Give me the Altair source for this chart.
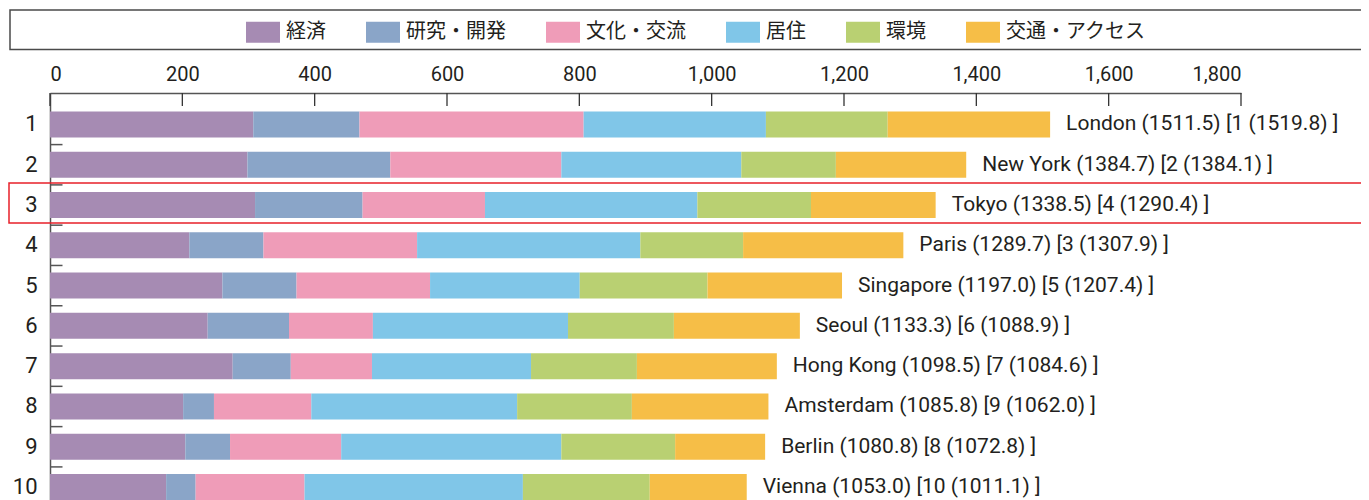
import altair as alt
import pandas as pd

# ---- data ----
ranks = [1, 2, 3, 4, 5, 6, 7, 8, 9, 10]
cities = ["London", "New York", "Tokyo", "Paris", "Singapore", "Seoul",
          "Hong Kong", "Amsterdam", "Berlin", "Vienna"]
totals = [1511.5, 1384.7, 1338.5, 1289.7, 1197.0, 1133.3, 1098.5, 1085.8, 1080.8, 1053.0]
prev_rank = [1, 2, 4, 3, 5, 6, 7, 9, 8, 10]
prev_score = [1519.8, 1384.1, 1290.4, 1307.9, 1207.4, 1088.9, 1084.6, 1062.0, 1072.8, 1011.1]

categories = ["経済", "研究・開発", "文化・交流", "居住", "環境", "交通・アクセス"]
colors = ["#a68bb3", "#8aa5c8", "#ef9cb8", "#80c6e8", "#b9d072", "#f6be47"]

economy = [307.2, 298.4, 309.9, 210.6, 260.6, 238.3, 276.1, 201.2, 204.5, 175.5]
research = [160.5, 215.9, 162.5, 112.0, 112.0, 122.9, 87.8, 46.6, 67.6, 44.6]
culture = [338.8, 258.5, 185.0, 232.2, 201.8, 126.8, 122.7, 147.1, 168.0, 164.6]
livability = [275.5, 272.0, 321.0, 337.4, 226.2, 294.9, 240.4, 311.1, 332.7, 330.0]
environment = [184.0, 142.9, 171.7, 155.3, 193.1, 160.0, 160.0, 173.4, 172.0, 191.7]
access = [245.5, 197.0, 188.4, 242.2, 203.3, 190.4, 211.5, 206.4, 136.0, 146.6]

x_ticks = [0, 200, 400, 600, 800, 1000, 1200, 1400, 1600, 1800]
highlight_rank = [3]

series = [economy, research, culture, livability, environment, access]

rows = []
for ci, (cat, vals) in enumerate(zip(categories, series)):
    for r, v in zip(ranks, vals):
        rows.append({"rank": r, "category": cat, "value": v, "order": ci})
bars_df = pd.DataFrame(rows)

labels_df = pd.DataFrame({
    "rank": ranks,
    "total": totals,
    "label": [f"{c} ({t:.1f}) [{pr} ({ps:.1f}) ]"
              for c, t, pr, ps in zip(cities, totals, prev_rank, prev_score)],
})
ticks_df = pd.DataFrame({"tick": x_ticks})
hl_df = pd.DataFrame({"rank": highlight_rank})
rank_df = pd.DataFrame({"rank": ranks})

FONT = "Roboto, Noto Sans CJK JP, sans-serif"
JFONT = "Noto Sans CJK JP, sans-serif"
W = 1191
H = 425
RANGE = 425.4

xscale = alt.Scale(domain=[0, 1800], nice=False)
yscale = alt.Scale(range=[0, RANGE], paddingInner=0.3547, paddingOuter=0.4567)

x_enc = alt.X("value:Q", stack="zero", scale=xscale,
              axis=alt.Axis(orient="top", values=x_ticks, format=",d", title=None,
                            labelFontSize=20, labelFont=FONT, labelColor="#231f20",
                            labelPadding=9, ticks=False, tickSize=0, grid=False,
                            domain=True, domainColor="#555555", domainWidth=1.5))
y_enc = alt.Y("rank:O", scale=yscale,
              axis=alt.Axis(orient="left", title=None, labelFontSize=22, labelFont=FONT,
                            labelColor="#231f20", labelPadding=13, ticks=False, tickSize=0,
                            domain=True, domainColor="#555555", domainWidth=1.5,
                            labelAngle=0))

bars = alt.Chart(bars_df).mark_bar().encode(
    x=x_enc,
    y=y_enc,
    color=alt.Color("category:N",
                    scale=alt.Scale(domain=categories, range=colors),
                    legend=alt.Legend(orient="none", legendX=196, legendY=-78,
                                      direction="horizontal", title=None,
                                      symbolType="M-1,-0.62H1V0.62H-1Z", symbolSize=1156,
                                      symbolStrokeWidth=0, symbolOpacity=1,
                                      labelFontSize=20, labelFont=JFONT,
                                      labelColor="#231f20", labelOffset=6,
                                      columnPadding=40, labelLimit=300)),
    order=alt.Order("order:Q"),
)

text = alt.Chart(labels_df).mark_text(
    align="left", baseline="middle", dx=16, fontSize=21, font=FONT, color="#231f20"
).encode(
    x=alt.X("total:Q", scale=xscale),
    y=alt.Y("rank:O", scale=yscale),
    text="label:N",
)

top_ticks = alt.Chart(ticks_df).mark_rule(color="#333333", strokeWidth=1.3).encode(
    x=alt.X("tick:Q", scale=xscale),
    y=alt.value(0),
    y2=alt.value(13),
)

band_ticks = alt.Chart(rank_df).mark_rule(color="#555555", strokeWidth=1.5, yOffset=20.2).encode(
    y=alt.Y("rank:O", scale=yscale),
    x=alt.value(0),
    x2=alt.value(12.5),
)

highlight = alt.Chart(hl_df).mark_bar(
    size=40, fill="transparent", stroke="#e8202a", strokeWidth=1.5, yOffset=-2
).encode(
    y=alt.Y("rank:O", scale=yscale),
    x=alt.value(-41),
    x2=alt.value(W + 130),
)

legend_box = alt.Chart(hl_df).mark_rect(
    fill="transparent", stroke="#4a4a4a", strokeWidth=1.5
).encode(
    x=alt.value(-40),
    x2=alt.value(W + 130),
    y=alt.value(-83),
    y2=alt.value(-43.5),
)

chart = alt.layer(legend_box, bars, text, top_ticks, band_ticks, highlight).properties(
    width=W,
    height=H,
    padding={"left": 42, "top": 85, "right": 120, "bottom": 0},
    autosize=alt.AutoSizeParams(type="none"),
).configure_view(stroke=None)

chart.save("out.html", embed_options={"renderer": "svg", "actions": False})
